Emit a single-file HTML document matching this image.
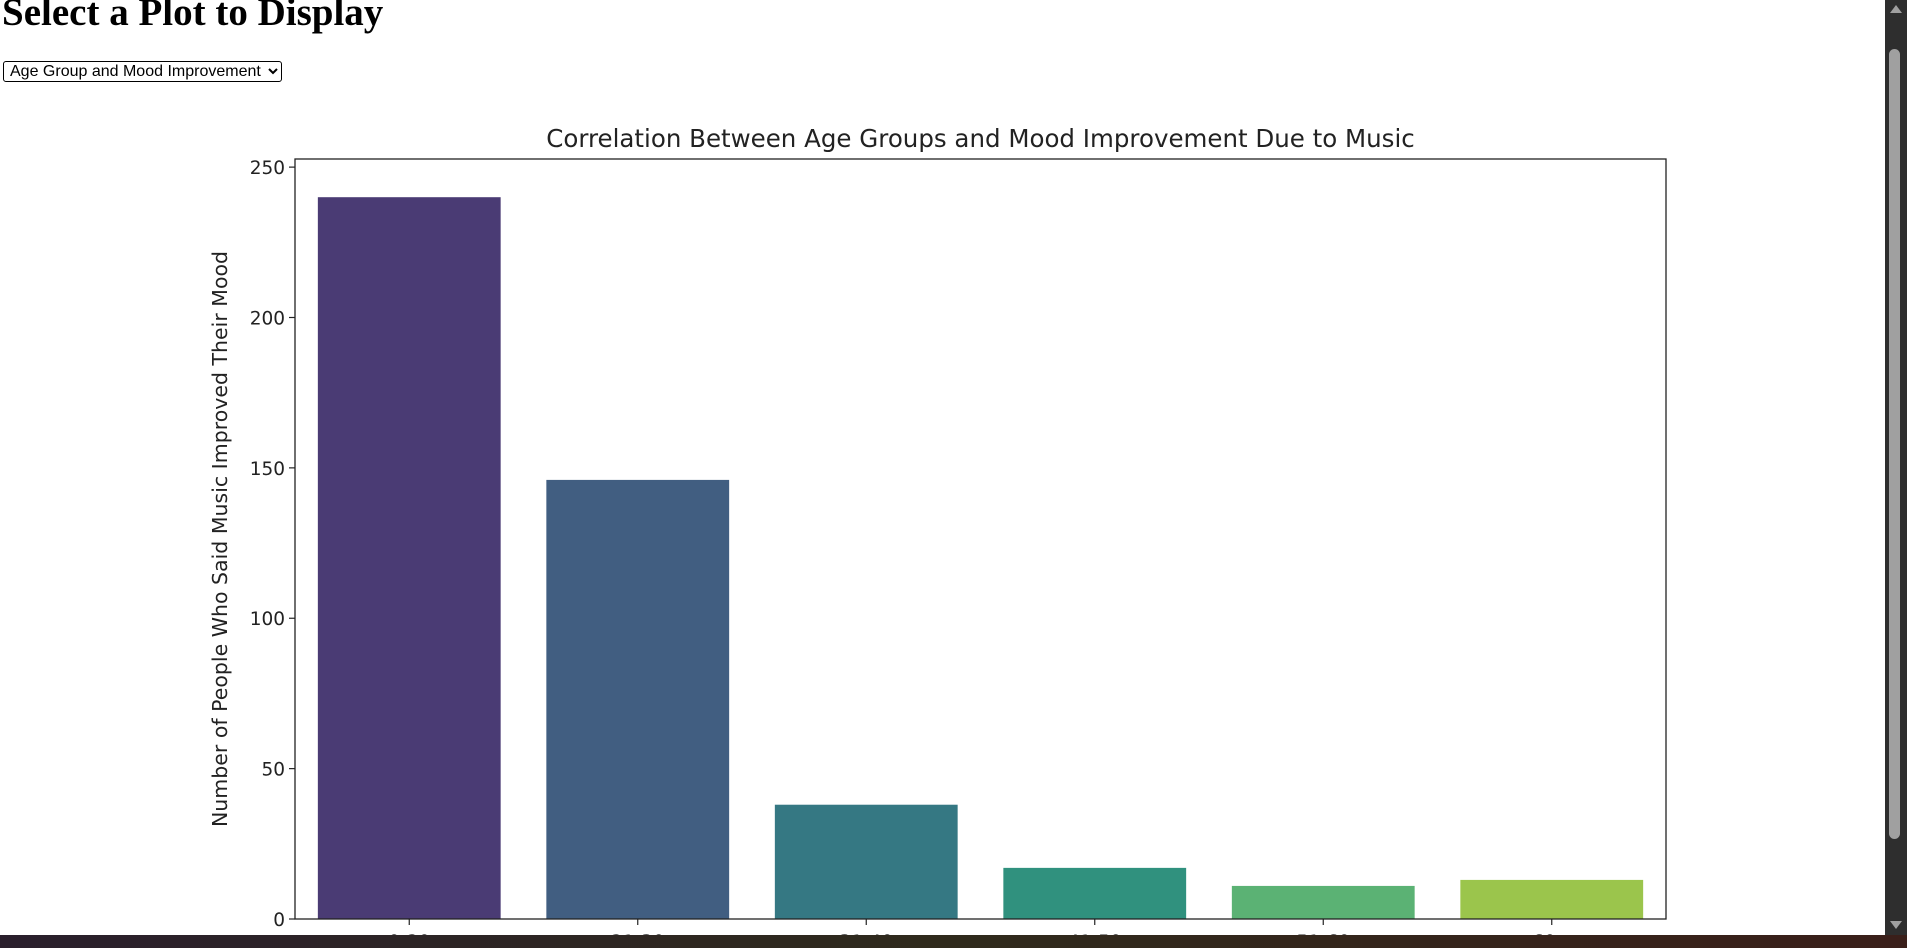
<!DOCTYPE html>
<html><head><meta charset="utf-8">
<style>
html,body{margin:0;padding:0;width:1907px;height:948px;overflow:hidden;background:#fff;position:relative;font-family:"Liberation Sans",sans-serif}
h1{position:absolute;left:2px;top:-10px;margin:0;font:bold 39px "Liberation Serif",serif;color:#000;white-space:nowrap}
select{position:absolute;left:3px;top:61px;width:279px;height:21px;font:16px "Liberation Sans",sans-serif;border:1.5px solid #000;border-radius:3px;background:#fff;padding:0 0 0 2px;color:#000}
</style></head><body>
<h1>Select a Plot to Display</h1>
<select><option>Age Group and Mood Improvement</option></select>
<svg id="chart" width="1907" height="948" style="position:absolute;left:0;top:0"></svg>
<div style="position:absolute;left:1885px;top:0;width:22px;height:935px;background:#2e2e2e">
<div style="position:absolute;left:5px;top:5px;width:0;height:0;border-left:6px solid transparent;border-right:6px solid transparent;border-bottom:8px solid #a0a0a0"></div>
<div style="position:absolute;left:4px;top:49px;width:11px;height:790px;background:#a0a0a0;border-radius:6px"></div>
<div style="position:absolute;left:5px;top:921px;width:0;height:0;border-left:6px solid transparent;border-right:6px solid transparent;border-top:8px solid #a0a0a0"></div>
</div>
<div style="position:absolute;left:0;top:935px;width:1907px;height:13px;background:linear-gradient(90deg,#2a1f2c,#2f2a1c 50%,#3a1f1a)"></div>
<script>
const categories=["0-20","21-30","31-40","41-50","51-60","60+"];
const values=[240,146,38,17,11,13];
const yTicks=[0,50,100,150,200,250];
const colors=["#4a3b74","#415e81","#357883","#30917e","#5bb274","#9bc54c"];
const NS="http://www.w3.org/2000/svg";
const svg=document.getElementById('chart');
const L=295,R=1666,T=159,B=919;
const ymax=252.7;
function y(v){return B-(v/ymax)*(B-T);}
const slot=(R-L)/categories.length;
function x(i){return L+slot*(i+0.5);}
function mk(tag,attrs){const e=document.createElementNS(NS,tag);for(const k in attrs)e.setAttribute(k,attrs[k]);svg.appendChild(e);return e;}
categories.forEach((c,i)=>{
  const w=slot*0.8;
  const r=mk('rect',{x:x(i)-w/2,y:y(values[i]),width:w,height:B-y(values[i]),fill:colors[i]});
  
  
  const t=mk('line',{x1:x(i),x2:x(i),y1:B,y2:B+6,stroke:'#222','stroke-width':1.2});
  
  
  const tx=mk('text',{x:x(i),y:B+29,'text-anchor':'middle','font-size':18.5,fill:'#222','font-family':'DejaVu Sans, sans-serif'});
  tx.textContent=c;
  
  
});
yTicks.forEach(v=>{
  const t=mk('line',{x1:L-6,x2:L,y1:y(v),y2:y(v),stroke:'#222','stroke-width':1.2});
  
  
  const tx=mk('text',{x:L-10,y:y(v)+7,'text-anchor':'end','font-size':18.5,fill:'#222','font-family':'DejaVu Sans, sans-serif'});
  tx.textContent=v;
  
  
});
const frame=mk('rect',{x:L,y:T,width:R-L,height:B-T,fill:'none',stroke:'#222','stroke-width':1.3});


const title=mk('text',{x:(L+R)/2,y:147,'text-anchor':'middle','font-size':24.5,fill:'#222','font-family':'DejaVu Sans, sans-serif'});
title.textContent='Correlation Between Age Groups and Mood Improvement Due to Music';


const yl=mk('text',{x:0,y:0,'text-anchor':'middle','font-size':20.5,fill:'#222','font-family':'DejaVu Sans, sans-serif',transform:'translate(227,'+((T+B)/2)+') rotate(-90)'});
yl.textContent='Number of People Who Said Music Improved Their Mood';


</script>
</body></html>
